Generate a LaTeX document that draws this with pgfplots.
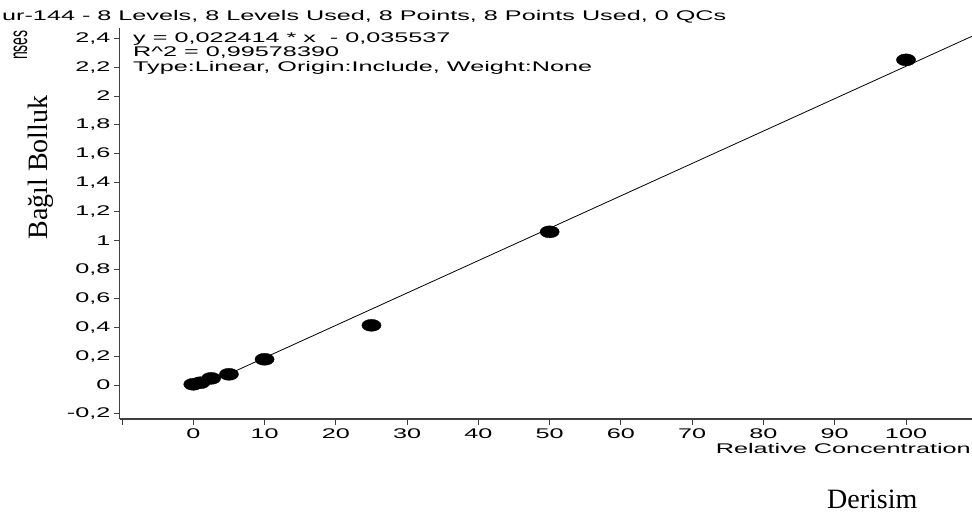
\documentclass[border=0pt]{standalone}
\usepackage{fontspec}
\usepackage{graphicx}
\usepackage{pgfplots}
\pgfplotsset{compat=1.18}
\setmainfont{Liberation Serif}
\newfontfamily\arialw[FakeStretch=1.8]{Liberation Sans}
\newfontfamily\arialn{Liberation Sans}
\newcommand\lbl{\arialw\fontsize{14bp}{16bp}\selectfont}

% calibration points of the instrument software
\pgfplotstableread{
conc  resp
0     0.005
1     0.016
2.5   0.046
5     0.074
10    0.178
25    0.413
50    1.060
100   2.250
}\calib

\begin{document}
\begin{tikzpicture}[x=1bp,y=1bp]
\useasboundingbox (0,0) rectangle (972,-514);
\begin{axis}[
  x=7.127bp, y=144.5bp,
  anchor=origin, at={(193.3bp,-385bp)},
  xmin=-10.3, xmax=109.4, ymin=-0.235, ymax=2.47,
  axis lines=left,
  axis line style={-, line width=1.1bp, black!75},
  tick align=outside, major tick length=6bp,
  tick style={line width=0.9bp, black!75},
  xtick={-10,0,10,20,30,40,50,60,70,80,90,100},
  xticklabels={{},0,10,20,30,40,50,60,70,80,90,100},
  ytick={-0.2,0,0.2,0.4,0.6,0.8,1,1.2,1.4,1.6,1.8,2,2.2,2.4},
  yticklabels={{-0,2},{0},{0,2},{0,4},{0,6},{0,8},{1},{1,2},{1,4},{1,6},{1,8},{2},{2,2},{2,4}},
  ticklabel style={font=\lbl},
  clip=false,
]
% fitted calibration line: y = 0.022414 x - 0.035537
\addplot[black, line width=0.8bp, no marks] coordinates {(0,-0.035537) (109.4,2.416555)};
\addplot[only marks, mark=*, mark size=6bp,
  mark options={xscale=1.6, fill=black, draw=black}] table[x=conc, y=resp] {\calib};
\end{axis}

\node[anchor=base west, inner sep=0] at (2,-21) {\lbl ur-144 - 8 Levels, 8 Levels Used, 8 Points, 8 Points Used, 0 QCs};
\node[anchor=base west, inner sep=0] at (133,-43) {\lbl y = 0,022414 * x~~- 0,035537};
\node[anchor=base west, inner sep=0] at (133,-57) {\lbl R\textasciicircum 2 = 0,99578390};
\node[anchor=base west, inner sep=0] at (133,-72) {\lbl Type:Linear, Origin:Include, Weight:None};
\node[anchor=base west, rotate=90, inner sep=0] at (27,-60)
  {\scalebox{1}[1.8]{\arialn\fontsize{14bp}{16bp}\selectfont nses}};
\node[anchor=base east, inner sep=0] at (971,-453) {\lbl Relative Concentration};
\node[anchor=base, rotate=90, inner sep=0] at (47,-167.5)
  {\fontsize{28bp}{32bp}\selectfont Bağıl Bolluk};
\node[anchor=base west, inner sep=0] at (827,-508.5)
  {\fontsize{28bp}{32bp}\selectfont Derisim};
\end{tikzpicture}
\end{document}
